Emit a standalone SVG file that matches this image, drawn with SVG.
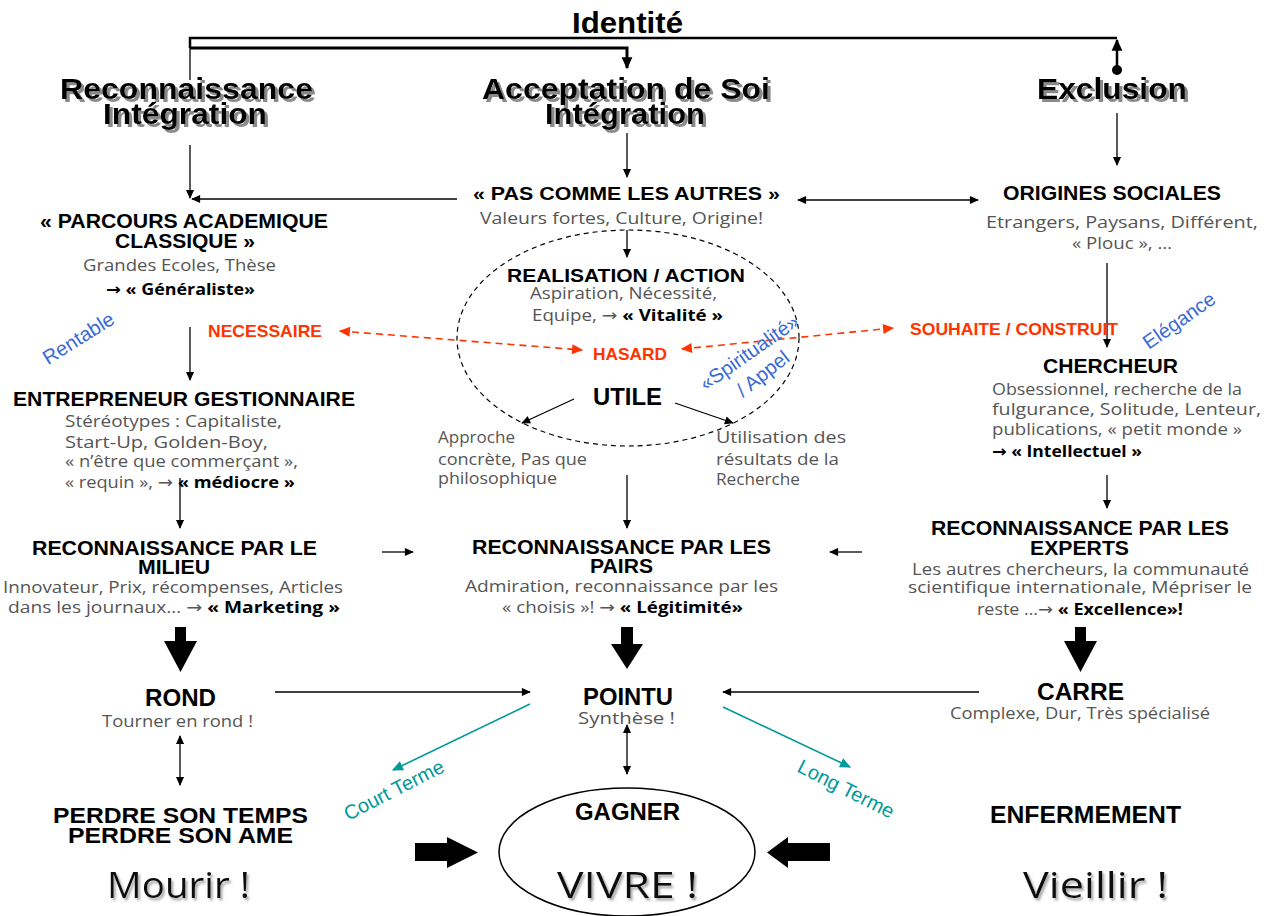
<svg xmlns="http://www.w3.org/2000/svg" width="1270" height="916" viewBox="0 0 1270 916">
<style>
text{font-family:"Liberation Sans",Arial,sans-serif}
.b{font-weight:bold;fill:#000}
.hd{font-size:29px;filter:url(#shd)}
.h{font-family:"Open Sans","DejaVu Sans",sans-serif;fill:#555;font-size:16px}
.k{fill:#000;font-weight:bold}
.red{fill:#ff3300;font-size:17px;font-weight:bold}
.blue{fill:#3a6ad4;font-size:20px}
.teal{fill:#009999;font-size:20px}
.big{font-family:"Open Sans","DejaVu Sans",sans-serif;font-size:36px;fill:#111;filter:url(#shl)}
.ln{stroke:#000;stroke-width:1.3;fill:none}
.dr{stroke:#ff3300;stroke-width:1.6;stroke-dasharray:7 5;fill:none}
.tl{stroke:#009999;stroke-width:1.6;fill:none}
</style>
<defs>
<filter id="shd" x="-10%" y="-30%" width="130%" height="170%"><feDropShadow dx="3" dy="3" stdDeviation="0.4" flood-color="#8a8a8a" flood-opacity="1"/></filter>
<filter id="shl" x="-10%" y="-30%" width="130%" height="170%"><feDropShadow dx="2" dy="2.5" stdDeviation="0.8" flood-color="#aaaaaa" flood-opacity="1"/></filter>
<marker id="a" viewBox="0 0 10 10" refX="9" refY="5" markerWidth="10" markerHeight="9" markerUnits="userSpaceOnUse" orient="auto-start-reverse"><path d="M0,0.5 L10,5 L0,9.5 z" fill="#000"/></marker>
<marker id="ab" viewBox="0 0 10 10" refX="9" refY="5" markerWidth="12" markerHeight="12" markerUnits="userSpaceOnUse" orient="auto-start-reverse"><path d="M0,0.5 L10,5 L0,9.5 z" fill="#000"/></marker>
<marker id="ar" viewBox="0 0 10 10" refX="9" refY="5" markerWidth="12" markerHeight="11" markerUnits="userSpaceOnUse" orient="auto-start-reverse"><path d="M0,0.5 L10,5 L0,9.5 z" fill="#ff3300"/></marker>
<marker id="at" viewBox="0 0 10 10" refX="9" refY="5" markerWidth="12" markerHeight="11" markerUnits="userSpaceOnUse" orient="auto-start-reverse"><path d="M0,0.5 L10,5 L0,9.5 z" fill="#009999"/></marker>
<marker id="dot" viewBox="0 0 10 10" refX="5" refY="5" markerWidth="10" markerHeight="10" markerUnits="userSpaceOnUse"><circle cx="5" cy="5" r="5" fill="#000"/></marker>
</defs>

<g id="connectors">
<path d="M190,48 V38 H1117" stroke="#000" stroke-width="2.5" fill="none"/>
<path d="M190,48 H627 V68" stroke="#000" stroke-width="3" fill="none" marker-end="url(#ab)"/>
<line x1="1117" y1="70" x2="1117" y2="40" stroke="#000" stroke-width="2.5" marker-start="url(#dot)" marker-end="url(#ab)"/>
<line class="ln" x1="190" y1="48" x2="190" y2="80"/>
<line class="ln" x1="190" y1="145" x2="190" y2="198" marker-end="url(#a)"/>
<line class="ln" x1="457" y1="199" x2="192" y2="199" marker-end="url(#a)"/>
<line class="ln" x1="627" y1="133" x2="627" y2="177" marker-end="url(#a)"/>
<line class="ln" x1="798" y1="200" x2="978" y2="200" marker-start="url(#a)" marker-end="url(#a)"/>
<line class="ln" x1="1117" y1="113" x2="1117" y2="165" marker-end="url(#a)"/>
<line class="ln" x1="627" y1="230" x2="627" y2="257" marker-end="url(#a)"/>
<ellipse cx="628" cy="338" rx="171" ry="108" fill="none" stroke="#000" stroke-width="1.2" stroke-dasharray="5 4"/>
<line class="ln" x1="190" y1="327" x2="190" y2="380" marker-end="url(#a)"/>
<line class="dr" x1="340" y1="331" x2="582" y2="350" marker-start="url(#ar)" marker-end="url(#ar)"/>
<line class="dr" x1="682" y1="349" x2="893" y2="328" marker-start="url(#ar)" marker-end="url(#ar)"/>
<line class="ln" x1="1107" y1="263" x2="1107" y2="347" marker-end="url(#a)"/>
<line class="ln" x1="574" y1="399" x2="522" y2="423" marker-end="url(#a)"/>
<line class="ln" x1="675" y1="403" x2="733" y2="423" marker-end="url(#a)"/>
<line class="ln" x1="180" y1="478" x2="180" y2="528" marker-end="url(#a)"/>
<line class="ln" x1="627" y1="475" x2="627" y2="528" marker-end="url(#a)"/>
<line class="ln" x1="1107" y1="475" x2="1107" y2="508" marker-end="url(#a)"/>
<line class="ln" x1="382" y1="552" x2="413" y2="552" marker-end="url(#a)"/>
<line class="ln" x1="862" y1="552" x2="830" y2="552" marker-end="url(#a)"/>
<path d="M175,627 h11 v14 h11 L180.5,672 L164,641 h11 z" fill="#000"/>
<path d="M621,627 h12 v17 h10 L627,669 L611,644 h10 z" fill="#000"/>
<path d="M1075,627 h11 v14 h11 L1080.5,672 L1064,641 h11 z" fill="#000"/>
<line class="ln" x1="275" y1="692" x2="530" y2="692" marker-end="url(#a)"/>
<line class="ln" x1="979" y1="692" x2="723" y2="692" marker-end="url(#a)"/>
<line class="tl" x1="530" y1="704" x2="393" y2="770" marker-end="url(#at)"/>
<line class="tl" x1="723" y1="707" x2="850" y2="767" marker-end="url(#at)"/>
<line class="ln" x1="180" y1="736" x2="180" y2="785" marker-start="url(#a)" marker-end="url(#a)"/>
<line class="ln" x1="627" y1="725" x2="627" y2="774" marker-start="url(#a)" marker-end="url(#a)"/>
<path d="M415,843 h32 v-6 L478,852.5 L447,868 v-7 h-32 z" fill="#000"/>
<path d="M830,843 h-42 v-6 L767,852.5 L788,868 v-7 h42 z" fill="#000"/>
</g>

<g id="identite"><text class="b" x="572" y="33" font-size="30" textLength="111" lengthAdjust="spacingAndGlyphs">Identité</text></g>

<g id="reconnaissance">
<text class="b hd" x="60" y="99" textLength="253" lengthAdjust="spacingAndGlyphs">Reconnaissance</text>
<text class="b hd" x="103" y="124" textLength="164" lengthAdjust="spacingAndGlyphs">Intégration</text>
</g>
<g id="acceptation">
<text class="b hd" x="482" y="99" textLength="288" lengthAdjust="spacingAndGlyphs">Acceptation de Soi</text>
<text class="b hd" x="545" y="124" textLength="160" lengthAdjust="spacingAndGlyphs">Intégration</text>
</g>
<g id="exclusion">
<text class="b hd" x="1037" y="99" textLength="150" lengthAdjust="spacingAndGlyphs">Exclusion</text>
</g>

<g id="parcours">
<text class="b" x="40" y="228" font-size="20" textLength="288" lengthAdjust="spacingAndGlyphs">« PARCOURS ACADEMIQUE</text>
<text class="b" x="115" y="248" font-size="20" textLength="140" lengthAdjust="spacingAndGlyphs">CLASSIQUE »</text>
<text class="h" x="83" y="271" textLength="193" lengthAdjust="spacingAndGlyphs">Grandes Ecoles, Thèse</text>
<text class="h k" x="106" y="295" textLength="149" lengthAdjust="spacingAndGlyphs">→ « Généraliste»</text>
</g>

<g id="pascomme">
<text class="b" x="473" y="200" font-size="19" textLength="307" lengthAdjust="spacingAndGlyphs">« PAS COMME LES AUTRES »</text>
<text class="h" x="480" y="224" textLength="283" lengthAdjust="spacingAndGlyphs">Valeurs fortes, Culture, Origine!</text>
</g>

<g id="origines">
<text class="b" x="1003" y="200" font-size="20" textLength="218" lengthAdjust="spacingAndGlyphs">ORIGINES SOCIALES</text>
<text class="h" x="986" y="228" textLength="272" lengthAdjust="spacingAndGlyphs">Etrangers, Paysans, Différent,</text>
<text class="h" x="1072" y="249" textLength="100" lengthAdjust="spacingAndGlyphs">« Plouc », …</text>
</g>

<g id="realisation">
<text class="b" x="507" y="282" font-size="19" textLength="238" lengthAdjust="spacingAndGlyphs">REALISATION / ACTION</text>
<text class="h" x="530" y="299" textLength="187" lengthAdjust="spacingAndGlyphs">Aspiration, Nécessité,</text>
<text class="h" x="532" y="321" textLength="191" lengthAdjust="spacingAndGlyphs">Equipe, → <tspan class="k">« Vitalité »</tspan></text>
</g>

<g id="necessaire"><text class="red" x="208" y="337" textLength="114" lengthAdjust="spacingAndGlyphs">NECESSAIRE</text></g>
<g id="hasard"><text class="red" x="593" y="360" textLength="74" lengthAdjust="spacingAndGlyphs">HASARD</text></g>
<g id="souhaite"><text class="red" x="910" y="335" textLength="208" lengthAdjust="spacingAndGlyphs">SOUHAITE / CONSTRUIT</text></g>

<g id="rentable"><text class="blue" text-anchor="middle" transform="translate(82,344) rotate(-32)">Rentable</text></g>
<g id="spiritualite">
<text class="blue" text-anchor="middle" transform="translate(753,358) rotate(-35)">«Spiritualité»</text>
<text class="blue" text-anchor="middle" transform="translate(767,379) rotate(-38)">/ Appel</text>
</g>
<g id="elegance"><text class="blue" text-anchor="middle" transform="translate(1183,326) rotate(-35)">Elégance</text></g>

<g id="utile"><text class="b" x="593" y="405" font-size="24" textLength="69" lengthAdjust="spacingAndGlyphs">UTILE</text></g>

<g id="chercheur">
<text class="b" x="1043" y="373" font-size="21" textLength="135" lengthAdjust="spacingAndGlyphs">CHERCHEUR</text>
<text class="h" x="992" y="395" textLength="250" lengthAdjust="spacingAndGlyphs">Obsessionnel, recherche de la</text>
<text class="h" x="992" y="415" textLength="269" lengthAdjust="spacingAndGlyphs">fulgurance, Solitude, Lenteur,</text>
<text class="h" x="992" y="435" textLength="250" lengthAdjust="spacingAndGlyphs">publications, « petit monde »</text>
<text class="h k" x="992" y="457" textLength="150" lengthAdjust="spacingAndGlyphs">→ « Intellectuel »</text>
</g>

<g id="entrepreneur">
<text class="b" x="13" y="406" font-size="20" textLength="342" lengthAdjust="spacingAndGlyphs">ENTREPRENEUR GESTIONNAIRE</text>
<text class="h" x="65" y="427" textLength="217" lengthAdjust="spacingAndGlyphs">Stéréotypes : Capitaliste,</text>
<text class="h" x="65" y="448" textLength="203" lengthAdjust="spacingAndGlyphs">Start-Up, Golden-Boy,</text>
<text class="h" x="65" y="467" textLength="233" lengthAdjust="spacingAndGlyphs">« n’être que commerçant »,</text>
<text class="h" x="65" y="488" textLength="230" lengthAdjust="spacingAndGlyphs">« requin », → <tspan class="k">« médiocre »</tspan></text>
</g>

<g id="approche">
<text class="h" x="438" y="443" textLength="77" lengthAdjust="spacingAndGlyphs">Approche</text>
<text class="h" x="438" y="465" textLength="149" lengthAdjust="spacingAndGlyphs">concrète, Pas que</text>
<text class="h" x="438" y="484" textLength="119" lengthAdjust="spacingAndGlyphs">philosophique</text>
</g>
<g id="utilisation">
<text class="h" x="716" y="443" textLength="130" lengthAdjust="spacingAndGlyphs">Utilisation des</text>
<text class="h" x="716" y="465" textLength="123" lengthAdjust="spacingAndGlyphs">résultats de la</text>
<text class="h" x="716" y="485" textLength="84" lengthAdjust="spacingAndGlyphs">Recherche</text>
</g>

<g id="milieu">
<text class="b" x="32" y="555" font-size="20" textLength="285" lengthAdjust="spacingAndGlyphs">RECONNAISSANCE PAR LE</text>
<text class="b" x="138" y="574" font-size="20" textLength="72" lengthAdjust="spacingAndGlyphs">MILIEU</text>
<text class="h" x="3" y="593" textLength="340" lengthAdjust="spacingAndGlyphs">Innovateur, Prix, récompenses, Articles</text>
<text class="h" x="8" y="613" textLength="332" lengthAdjust="spacingAndGlyphs">dans les journaux… → <tspan class="k">« Marketing »</tspan></text>
</g>

<g id="pairs">
<text class="b" x="472" y="554" font-size="20" textLength="299" lengthAdjust="spacingAndGlyphs">RECONNAISSANCE PAR LES</text>
<text class="b" x="590" y="573" font-size="20" textLength="63" lengthAdjust="spacingAndGlyphs">PAIRS</text>
<text class="h" x="465" y="592" textLength="313" lengthAdjust="spacingAndGlyphs">Admiration, reconnaissance par les</text>
<text class="h" x="502" y="613" textLength="241" lengthAdjust="spacingAndGlyphs">« choisis »! → <tspan class="k">« Légitimité»</tspan></text>
</g>

<g id="experts">
<text class="b" x="931" y="535" font-size="20" textLength="298" lengthAdjust="spacingAndGlyphs">RECONNAISSANCE PAR LES</text>
<text class="b" x="1030" y="555" font-size="20" textLength="99" lengthAdjust="spacingAndGlyphs">EXPERTS</text>
<text class="h" x="912" y="575" textLength="337" lengthAdjust="spacingAndGlyphs">Les autres chercheurs, la communauté</text>
<text class="h" x="908" y="593" textLength="344" lengthAdjust="spacingAndGlyphs">scientifique internationale, Mépriser le</text>
<text class="h" x="977" y="615" textLength="206" lengthAdjust="spacingAndGlyphs">reste …→ <tspan class="k">« Excellence»!</tspan></text>
</g>

<g id="rond">
<text class="b" x="145" y="706" font-size="24" textLength="71" lengthAdjust="spacingAndGlyphs">ROND</text>
<text class="h" x="102" y="727" textLength="151" lengthAdjust="spacingAndGlyphs">Tourner en rond !</text>
</g>
<g id="pointu">
<text class="b" x="583" y="705" font-size="24" textLength="90" lengthAdjust="spacingAndGlyphs">POINTU</text>
<text class="h" x="578" y="724" textLength="97" lengthAdjust="spacingAndGlyphs">Synthèse !</text>
</g>
<g id="carre">
<text class="b" x="1037" y="700" font-size="24" textLength="87" lengthAdjust="spacingAndGlyphs">CARRE</text>
<text class="h" x="950" y="719" textLength="260" lengthAdjust="spacingAndGlyphs">Complexe, Dur, Très spécialisé</text>
</g>

<g id="courtterme"><text class="teal" text-anchor="middle" transform="translate(397,796) rotate(-27)">Court Terme</text></g>
<g id="longterme"><text class="teal" text-anchor="middle" transform="translate(843,795) rotate(27)">Long Terme</text></g>

<g id="perdre">
<text class="b" x="53" y="823" font-size="22" textLength="255" lengthAdjust="spacingAndGlyphs">PERDRE SON TEMPS</text>
<text class="b" x="68" y="843" font-size="22" textLength="225" lengthAdjust="spacingAndGlyphs">PERDRE SON AME</text>
</g>
<g id="gagner">
<ellipse cx="627" cy="852" rx="128" ry="64" fill="none" stroke="#000" stroke-width="1.5"/>
<text class="b" x="575" y="820" font-size="24" textLength="105" lengthAdjust="spacingAndGlyphs">GAGNER</text>
</g>
<g id="enfermement"><text class="b" x="990" y="823" font-size="24" textLength="191" lengthAdjust="spacingAndGlyphs">ENFERMEMENT</text></g>

<g id="mourir"><text class="big" x="107" y="898" textLength="143" lengthAdjust="spacingAndGlyphs">Mourir !</text></g>
<g id="vivre"><text class="big" x="557" y="898" textLength="141" lengthAdjust="spacingAndGlyphs">VIVRE !</text></g>
<g id="vieillir"><text class="big" x="1023" y="898" textLength="145" lengthAdjust="spacingAndGlyphs">Vieillir !</text></g>
</svg>
